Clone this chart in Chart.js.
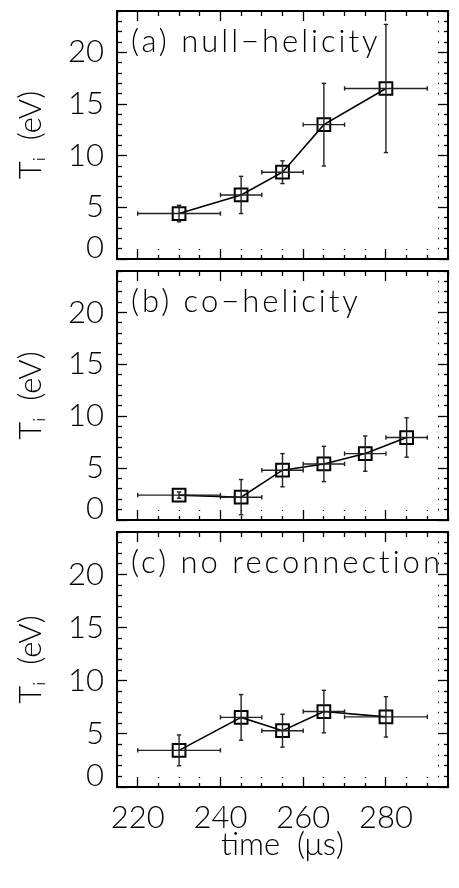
<!DOCTYPE html>
<html><head><meta charset="utf-8">
<script src="https://cdn.jsdelivr.net/npm/chart.js@4.4.1/dist/chart.umd.min.js"></script>
<style>
html,body{margin:0;padding:0;background:#fff;width:459px;height:888px;overflow:hidden;}
.p{position:absolute;left:0;}
canvas{display:block;}
</style></head><body>
<div class="p" style="top:0px"><canvas id="ca" width="459" height="270"></canvas></div>
<div class="p" style="top:260px"><canvas id="cb" width="459" height="271"></canvas></div>
<div class="p" style="top:521px"><canvas id="cc" width="459" height="367"></canvas></div>
<script>
// ---- data ----
const panelLabels = ['(a) null\u2212helicity', '(b) co\u2212helicity', '(c) no reconnection'];

const timeA  = [230, 245, 255, 265, 280];
const tErrA  = [10, 5, 5, 5, 10];
const tiA    = [4.4, 6.2, 8.4, 13.0, 16.5];
const tiErrA = [0.8, 1.8, 1.1, 4.0, 6.2];

const timeB  = [230, 245, 255, 265, 275, 285];
const tErrB  = [10, 5, 5, 5, 5, 5];
const tiB    = [2.4, 2.2, 4.8, 5.4, 6.4, 7.95];
const tiErrB = [0.3, 1.7, 1.6, 1.7, 1.7, 1.9];

const timeC  = [230, 245, 255, 265, 280];
const tErrC  = [10, 5, 5, 5, 10];
const tiC    = [3.45, 6.55, 5.3, 7.1, 6.6];
const tiErrC = [1.45, 2.15, 1.55, 2.0, 1.9];

const xMajorTicks = [220, 240, 260, 280];
const yMajorTicks = [0, 5, 10, 15, 20];
const xTitle = 'time  (\u03bcs)';
const yTitle = 'T\u1d62  (eV)';

// ---- styling ----
const FONT = "Lato, 'Open Sans', 'DejaVu Sans', sans-serif";
const FSIZE = 31;
const INK = '#000';

function hBars(t, dt, v) {
  const out = [];
  t.forEach((x, i) => { out.push({x: x - dt[i], y: v[i]}, {x: x + dt[i], y: v[i]}, {x: x, y: null}); });
  return out;
}
function vBars(t, v, dv) {
  const out = [];
  t.forEach((x, i) => { out.push({x: x, y: v[i] - dv[i]}, {x: x, y: v[i] + dv[i]}, {x: x, y: null}); });
  return out;
}

const panelLabelPlugin = {
  id: 'panelLabel',
  afterDraw(chart, args, opts) {
    const {ctx, chartArea} = chart;
    ctx.save();
    ctx.font = '300 ' + FSIZE + 'px ' + FONT;
    ctx.fillStyle = INK;
    ctx.textBaseline = 'middle';
    ctx.textAlign = 'left';
    if ('letterSpacing' in ctx) ctx.letterSpacing = opts.spacing + 'px';
    ctx.fillText(opts.text, chartArea.left + 14, chartArea.top + 31);
    ctx.restore();
  }
};

function tickFont(extra) { return Object.assign({family: FONT, size: FSIZE, weight: 300}, extra || {}); }
function noPad(s) { s.paddingTop = 0; s.paddingBottom = 0; s.paddingLeft = 0; s.paddingRight = 0; }

function makePanel(id, label, time, tErr, ti, tiErr, isBottom) {
  const xCommon = {
    type: 'linear', min: 215, max: 295,
    border: {display: true, color: INK, width: 2},
  };
  const gridX = (offset) => ({
    drawOnChartArea: false, drawTicks: true, tickLength: -10,
    tickColor: INK, tickWidth: 1.3,
    tickBorderDash: c => (c.tick && xMajorTicks.includes(c.tick.value)) ? [] : [5, 5],
    tickBorderDashOffset: offset
  });
  const gridY = (offset) => ({
    drawOnChartArea: false, drawTicks: true, tickLength: -10,
    tickColor: INK, tickWidth: 1.3,
    tickBorderDash: c => (c.tick && yMajorTicks.includes(c.tick.value)) ? [] : [5, 5],
    tickBorderDashOffset: offset
  });
  return new Chart(document.getElementById(id), {
    type: 'scatter',
    data: {
      datasets: [
        {
          label: 'time error', data: hBars(time, tErr, ti), showLine: true,
          borderColor: '#222', borderWidth: 1.4,
          pointStyle: 'line', pointRotation: 90, pointRadius: 2.2,
          pointBorderColor: '#222', pointBorderWidth: 1.4
        },
        {
          label: 'Ti error', data: vBars(time, ti, tiErr), showLine: true,
          borderColor: '#222', borderWidth: 1.4,
          pointStyle: 'line', pointRotation: 0, pointRadius: 2.2,
          pointBorderColor: '#222', pointBorderWidth: 1.4
        },
        {
          label: 'Ti', data: time.map((t, i) => ({x: t, y: ti[i]})), showLine: true,
          borderColor: INK, borderWidth: 1.6,
          pointStyle: 'rect', pointRadius: 9, pointBorderWidth: 2,
          pointBorderColor: INK, pointBackgroundColor: 'rgba(0,0,0,0)'
        }
      ]
    },
    options: {
      responsive: false, animation: false, devicePixelRatio: 1,
      layout: {padding: {top: 5, bottom: isBottom ? 0 : 5, left: 0, right: 2}},
      plugins: {legend: {display: false}, tooltip: {enabled: false},
                panelLabel: {text: label, spacing: 3}},
      scales: {
        x: Object.assign({}, xCommon, {
          position: 'bottom',
          afterFit: s => { s.height = isBottom ? 101 : 0; noPad(s); },
          ticks: {display: isBottom, stepSize: 5, autoSkip: false, maxRotation: 0, includeBounds: false,
                  padding: 22, color: INK, font: tickFont(),
                  callback: v => xMajorTicks.includes(v) ? String(v) : ''},
          grid: gridX(0),
          title: {display: isBottom, text: xTitle, color: INK, font: tickFont(), padding: {top: 0, bottom: 24}}
        }),
        xTop: Object.assign({}, xCommon, {
          position: 'top',
          afterFit: s => { s.height = 0; noPad(s); },
          ticks: {display: false, stepSize: 5, autoSkip: false, includeBounds: false},
          grid: gridX(5)
        }),
        y: {
          type: 'linear', position: 'left', min: 0, max: 24,
          afterFit: s => { s.width = 117; noPad(s); },
          border: {display: true, color: INK, width: 2},
          ticks: {stepSize: 1, autoSkip: false, padding: 23, color: INK, font: tickFont({lineHeight: 0.7}),
                  callback: v => v === 0 ? ['0', ''] : (yMajorTicks.includes(v) ? String(v) : '')},
          grid: gridY(5),
          title: {display: true, text: yTitle, color: INK, font: tickFont(), padding: {top: 12, bottom: 0}}
        },
        yRight: {
          type: 'linear', position: 'right', min: 0, max: 24,
          afterFit: s => { s.width = 0; noPad(s); },
          border: {display: true, color: INK, width: 2},
          ticks: {display: false, stepSize: 1, autoSkip: false},
          grid: gridY(0)
        }
      }
    },
    plugins: [panelLabelPlugin]
  });
}

makePanel('ca', panelLabels[0], timeA, tErrA, tiA, tiErrA, false);
makePanel('cb', panelLabels[1], timeB, tErrB, tiB, tiErrB, false);
makePanel('cc', panelLabels[2], timeC, tErrC, tiC, tiErrC, true);
</script>
</body></html>
